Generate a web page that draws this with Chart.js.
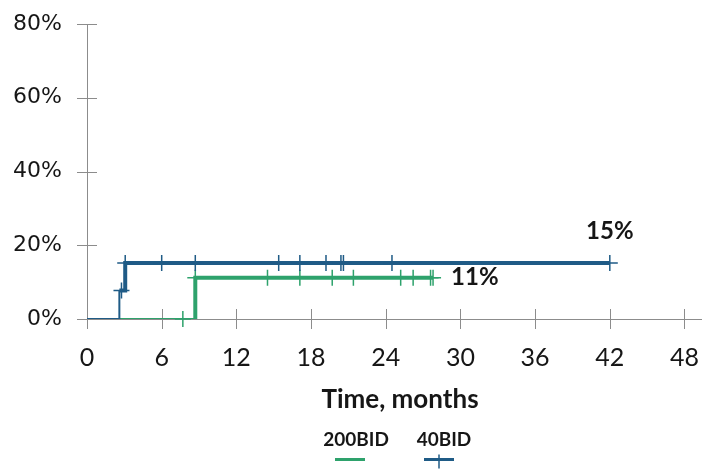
<!DOCTYPE html>
<html><head><meta charset="utf-8">
<script src="https://cdn.jsdelivr.net/npm/chart.js@4.4.1/dist/chart.umd.min.js"></script>
<style>html,body{margin:0;padding:0;background:#fff;}#wrap{width:702px;height:469px;}</style>
</head><body><div id="wrap"><canvas id="c" width="702" height="469"></canvas></div>
<script>
// ---- data ----
const seriesNames = ['200BID', '40BID'];
const xTicks = [0, 6, 12, 18, 24, 30, 36, 42, 48];
const yTicks = [0, 20, 40, 60, 80];
const xTitle = 'Time, months';
// 40BID (blue): cumulative incidence, %
const blueEventTimes = [0, 2.6, 3.07, 42.0];
const blueRisk = [0, 7.7, 15.2, 15.2];
const blueCensorTimes = [2.77, 3.07, 6.0, 8.7, 15.4, 17.1, 19.2, 20.4, 20.6, 24.5, 42.0];
const blueCensorRisk = [7.7, 15.2, 15.2, 15.2, 15.2, 15.2, 15.2, 15.2, 15.2, 15.2, 15.2];
const blueEndLabel = '15%';
// 200BID (green)
const greenEventTimes = [0, 8.7, 27.8];
const greenRisk = [0, 11.2, 11.2];
const greenCensorTimes = [7.7, 8.7, 14.5, 17.1, 19.7, 21.4, 25.2, 26.2, 27.6, 27.8];
const greenCensorRisk = [0, 11.2, 11.2, 11.2, 11.2, 11.2, 11.2, 11.2, 11.2, 11.2];
const greenEndLabel = '11%';

const BLUE = '#1f5b86', GREEN = '#2ea26c', AXIS = '#8c8c8c', TEXT = '#161616';

function stepPoints(times, risk) {
  const pts = [{x: times[0], y: risk[0]}];
  for (let i = 1; i < times.length; i++) {
    pts.push({x: times[i], y: risk[i - 1]});
    pts.push({x: times[i], y: risk[i]});
  }
  return pts;
}
function zip(xs, ys) { return xs.map((v, i) => ({x: v, y: ys[i]})); }

const axisPlugin = {
  id: 'axisMarks',
  beforeDatasetsDraw(chart) {
    const {ctx, chartArea: a, scales: {x, y}} = chart;
    ctx.save();
    ctx.strokeStyle = AXIS; ctx.lineWidth = 1;
    ctx.beginPath();
    yTicks.forEach(v => { const py = Math.round(y.getPixelForValue(v)) + 0.5; ctx.moveTo(a.left - 10, py); ctx.lineTo(a.left + 10, py); });
    xTicks.forEach(v => { const px = Math.round(x.getPixelForValue(v)) + 0.5; ctx.moveTo(px, a.bottom - 10); ctx.lineTo(px, a.bottom + 10); });
    const by = Math.round(y.getPixelForValue(0)) + 0.5;
    ctx.moveTo(a.right, by); ctx.lineTo(chart.width, by);
    ctx.stroke();
    ctx.restore();
  },
  afterDraw(chart) {
    const {ctx, scales: {x, y}} = chart;
    ctx.save();
    ctx.fillStyle = TEXT;
    ctx.textBaseline = 'middle';
    // axis title
    ctx.font = 'bold 26px Lato';
    ctx.textAlign = 'center';
    ctx.fillText(xTitle, 400, 400);
    // end labels
    ctx.font = 'bold 24px Lato';
    const bl = blueEventTimes.length - 1;
    ctx.fillText(blueEndLabel, x.getPixelForValue(blueEventTimes[bl]), y.getPixelForValue(blueRisk[bl]) - 32);
    ctx.textAlign = 'left';
    const gl = greenEventTimes.length - 1;
    ctx.fillText(greenEndLabel, x.getPixelForValue(greenEventTimes[gl]) + 18, y.getPixelForValue(greenRisk[gl]));
    // legend
    const cx = 400, ty = 440, sy = 459.5;
    ctx.font = 'bold 19px Lato';
    ctx.textAlign = 'center';
    ctx.fillText(seriesNames[0], cx - 44, ty);
    ctx.fillText(seriesNames[1], cx + 44, ty);
    ctx.strokeStyle = GREEN; ctx.lineWidth = 3;
    ctx.beginPath(); ctx.moveTo(cx - 65, sy); ctx.lineTo(cx - 35, sy); ctx.stroke();
    ctx.strokeStyle = BLUE; ctx.lineWidth = 3;
    ctx.beginPath(); ctx.moveTo(cx + 24, sy); ctx.lineTo(cx + 54, sy); ctx.stroke();
    ctx.lineWidth = 1.5;
    ctx.beginPath(); ctx.moveTo(cx + 39, sy - 5); ctx.lineTo(cx + 39, sy + 9); ctx.stroke();
    ctx.restore();
  }
};

new Chart(document.getElementById('c'), {
  type: 'scatter',
  data: {
    datasets: [
      { label: seriesNames[1], data: zip(blueCensorTimes, blueCensorRisk), showLine: false,
        pointStyle: 'cross', pointRadius: 8, pointBorderWidth: 1.5, borderColor: BLUE, backgroundColor: BLUE, clip: false },
      { label: seriesNames[1], data: stepPoints(blueEventTimes, blueRisk), showLine: true, pointRadius: 0,
        borderColor: BLUE, borderWidth: 4, tension: 0,
        segment: { borderWidth: c => (c.p0.parsed.y === 0 ? 2 : 4) } },
      { label: seriesNames[0], data: zip(greenCensorTimes, greenCensorRisk), showLine: false,
        pointStyle: 'cross', pointRadius: 8, pointBorderWidth: 1.5, borderColor: GREEN, backgroundColor: GREEN, clip: false },
      { label: seriesNames[0], data: stepPoints(greenEventTimes, greenRisk), showLine: true, pointRadius: 0,
        borderColor: GREEN, borderWidth: 4, tension: 0,
        segment: { borderWidth: c => (c.p0.parsed.y === 0 && c.p1.parsed.y === 0 ? 2 : 4) } }
    ]
  },
  options: {
    responsive: false, animation: false, devicePixelRatio: 1,
    layout: { autoPadding: false, padding: { top: 24, right: 17, left: 0, bottom: 0 } },
    plugins: { legend: { display: false }, tooltip: { enabled: false } },
    scales: {
      x: {
        type: 'linear', min: 0, max: 48,
        afterBuildTicks: s => { s.ticks = xTicks.map(v => ({ value: v })); },
        grid: { display: false, drawTicks: true, tickLength: 21 },
        border: { display: true, color: AXIS, width: 1 },
        ticks: { padding: 3, color: TEXT, font: { family: 'Lato', size: 25 }, maxRotation: 0, autoSkip: false },
        title: { display: false, text: xTitle },
        afterFit: s => { s.height = 150; }
      },
      y: {
        type: 'linear', min: 0, max: 80,
        afterBuildTicks: s => { s.ticks = yTicks.map(v => ({ value: v })); },
        grid: { display: false, drawTicks: true, tickLength: 22 },
        border: { display: true, color: AXIS, width: 1 },
        ticks: { padding: 3, color: TEXT, font: { family: 'DejaVu Sans', size: 22 }, callback: v => v + '%' },
        afterFit: s => { s.width = 87; }
      }
    }
  },
  plugins: [axisPlugin]
});
</script>
</body></html>
